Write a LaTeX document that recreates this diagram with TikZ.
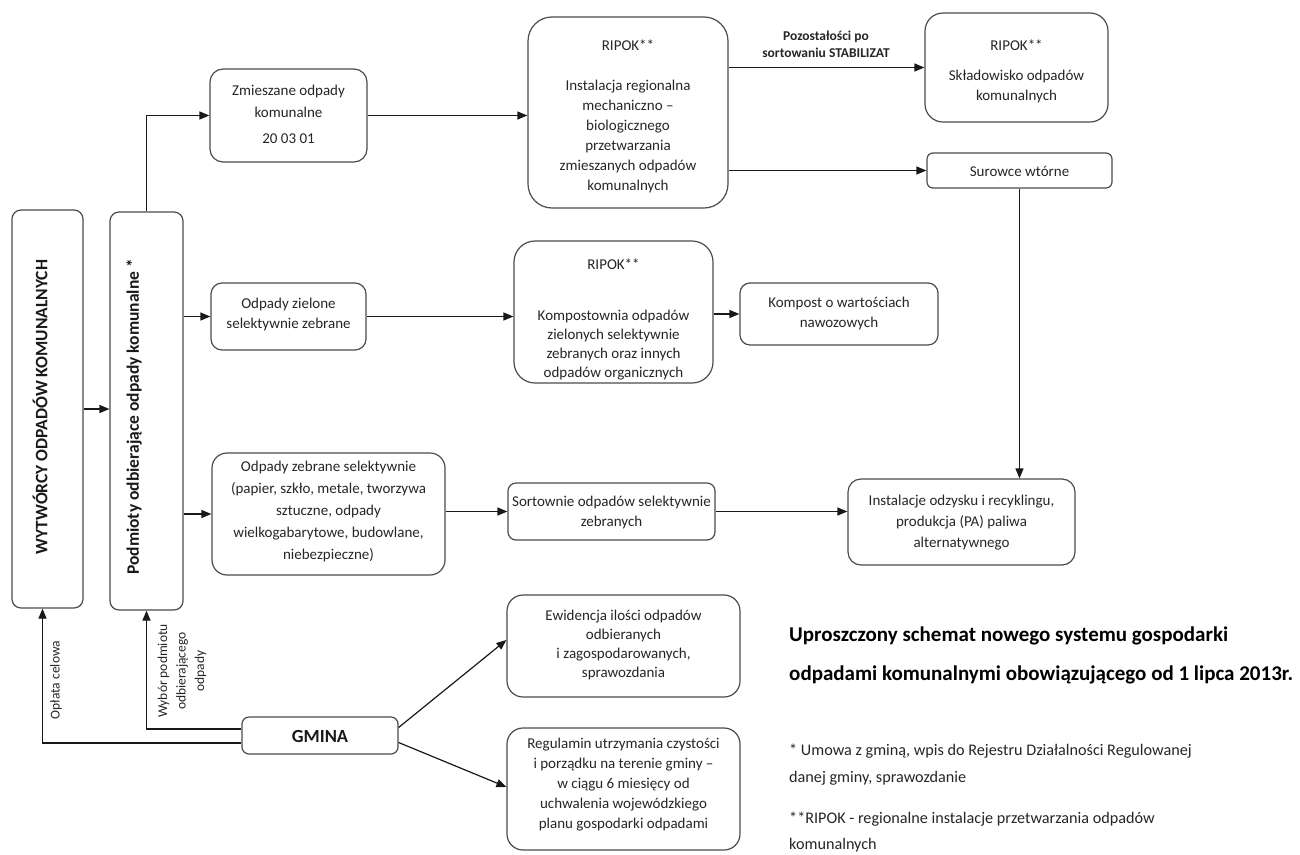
\documentclass[tikz,border=0pt]{standalone}
\usepackage{fontspec}
\setmainfont{Carlito}
\usetikzlibrary{arrows.meta,fit,calc}
\newcommand\fsz[2]{\fontsize{#1}{#2}\selectfont}
\begin{document}
\begin{tikzpicture}[x=1pt,y=-1pt,
  box/.style={draw=black!70, line width=1.2pt, rounded corners=10pt, inner sep=0pt},
  arr/.style={draw=black!90, line width=1.2pt, -{Triangle[length=10pt,width=8pt]}},
  txt/.style={align=center, inner sep=0pt, text=black!85, font=\fsz{15}{20}},
  btxt/.style={inner sep=0pt, text=black!90, font=\bfseries\fsz{17.5}{20}},
  small/.style={inner sep=0pt, text=black!85, align=center, font=\fsz{13.5}{18.5}},
  note/.style={anchor=west, inner sep=0pt, text=black!85, font=\fsz{16.2}{18}},
  title/.style={anchor=west, inner sep=0pt, text=black, font=\bfseries\fsz{21}{24}},
]
\useasboundingbox[fill=white] (0,0) rectangle (1300,854);

% boxes
\node[box, rounded corners=9pt,  fit={(12,210) (83,608)}] (wyt) {};
\node[box, rounded corners=9pt,  fit={(110,212) (183,610)}] (pod) {};
\node[box, rounded corners=13pt, fit={(210,69) (367,162)}] (zmi) {};
\node[box, rounded corners=24pt, fit={(528,17) (728,208)}] (rip1) {};
\node[box, rounded corners=18pt, fit={(925,13) (1108,122)}] (skl) {};
\node[box, rounded corners=6pt,  fit={(927,153) (1112,188)}] (sur) {};
\node[box, rounded corners=11pt, fit={(211,283) (366,350)}] (ziel) {};
\node[box, rounded corners=21pt, fit={(514,241) (713,383)}] (rip2) {};
\node[box, rounded corners=10pt, fit={(740,283) (938,345)}] (komp) {};
\node[box, rounded corners=15pt, fit={(212,453) (445,575)}] (zeb) {};
\node[box, rounded corners=8pt,  fit={(508,483) (715,540)}] (sort) {};
\node[box, rounded corners=13pt, fit={(848,479) (1075,565)}] (inst) {};
\node[box, rounded corners=7pt,  fit={(242,717) (398,754)}] (gmi) {};
\node[box, rounded corners=16pt, fit={(507,595) (740,697)}] (ewi) {};
\node[box, rounded corners=16pt, fit={(507,728) (740,850)}] (reg) {};

% box texts
\node[btxt, rotate=90] (wytt) at (40,407) {WYTWÓRCY ODPADÓW KOMUNALNYCH};
\node[btxt, rotate=90] (podt) at (134,417) {Podmioty odbierające odpady komunalne *};
\node[txt] (zmit) at (288.5,114) {Zmieszane odpady\\[2pt]komunalne\\[6pt]20 03 01};
\node[txt] (rip1t) at (628,116) {RIPOK**\\[20pt]Instalacja regionalna\\mechaniczno –\\biologicznego\\przetwarzania\\zmieszanych odpadów\\komunalnych};
\node[txt] (sklt) at (1016.5,71) {RIPOK**\\[10pt]Składowisko odpadów\\komunalnych};
\node[txt] (surt) at (1019.5,171) {Surowce wtórne};
\node[txt] (zielt) at (288.5,314) {Odpady zielone\\selektywnie zebrane};
\node[txt, font=\fsz{15}{19}] (rip2t) at (613.5,319) {RIPOK**\\[32pt]Kompostownia odpadów\\zielonych selektywnie\\zebranych oraz innych\\odpadów organicznych};
\node[txt] (kompt) at (839,313) {Kompost o wartościach\\nawozowych};
\node[txt, font=\fsz{15}{22}] (zebt) at (328.5,511) {Odpady zebrane selektywnie\\(papier, szkło, metale, tworzywa\\sztuczne, odpady\\wielkogabarytowe, budowlane,\\niebezpieczne)};
\node[txt] (sortt) at (611.5,512) {Sortownie odpadów selektywnie\\zebranych};
\node[txt, font=\fsz{15}{21}] (instt) at (961.5,523) {Instalacje odzysku i recyklingu,\\produkcja (PA) paliwa\\alternatywnego};
\node[inner sep=0pt, text=black!90, font=\bfseries\fsz{18.5}{20}] (gmit) at (320,736) {GMINA};
\node[txt, font=\fsz{15}{19}] (ewit) at (623.5,645) {Ewidencja ilości odpadów\\odbieranych\\i zagospodarowanych,\\sprawozdania};
\node[txt] (regt) at (623.5,785) {Regulamin utrzymania czystości\\i porządku na terenie gminy –\\w ciągu 6 miesięcy od\\uchwalenia wojewódzkiego\\planu gospodarki odpadami};

% connectors
\draw[arr] (wyt.east) -- (wyt.east -| pod.west);
\draw[arr] (pod.north) |- (zmi.west);
\draw[arr] (pod.east |- ziel.west) -- (ziel.west);
\draw[arr] (pod.east |- zeb.west) -- (zeb.west);
\draw[arr] (zmi.east) -- (zmi.east -| rip1.west);
\draw[arr] (rip1.east |- skl.west) -- (skl.west);
\draw[arr] (rip1.east |- sur.west) -- (sur.west);
\draw[arr] (sur.south) -- (sur.south |- inst.north);
\draw[arr] (ziel.east) -- (ziel.east -| rip2.west);
\draw[arr] (rip2.east |- komp.west) -- (komp.west);
\draw[arr] (zeb.east |- sort.west) -- (sort.west);
\draw[arr] (sort.east) -- (sort.east -| inst.west);
\draw[arr] ([yshift=6.5pt]gmi.west) -| (pod.south);
\draw[arr] ([yshift=-7.5pt]gmi.west) -| ([xshift=-5pt]wyt.south);
\draw[arr] ([yshift=8pt]gmi.east) -- ([yshift=6pt]ewi.west);
\draw[arr] ([yshift=-7pt]gmi.east) -- ([yshift=2pt]reg.west);

% labels
\node[small, font=\bfseries\fsz{13.5}{17}] (lab1) at (826,44) {Pozostałości po\\sortowaniu STABILIZAT};
\node[small, rotate=90] (oplt) at (56,680) {Opłata celowa};
\node[small, rotate=90] (wybt) at (182,671) {Wybór podmiotu\\odbierającego\\odpady};

% title and notes
\node[title] (tit1) at (789,636) {Uproszczony schemat nowego systemu gospodarki};
\node[title] (tit2) at (789,675) {odpadami komunalnymi obowiązującego od 1 lipca 2013r.};
\node[note] (fn1) at (789,751) {* Umowa z gminą, wpis do Rejestru Działalności Regulowanej};
\node[note] (fn2) at (789,778) {danej gminy, sprawozdanie};
\node[note] (fn3) at (789,819) {**RIPOK - regionalne instalacje przetwarzania odpadów};
\node[note] (fn4) at (789,845) {komunalnych};
\end{tikzpicture}
\end{document}
